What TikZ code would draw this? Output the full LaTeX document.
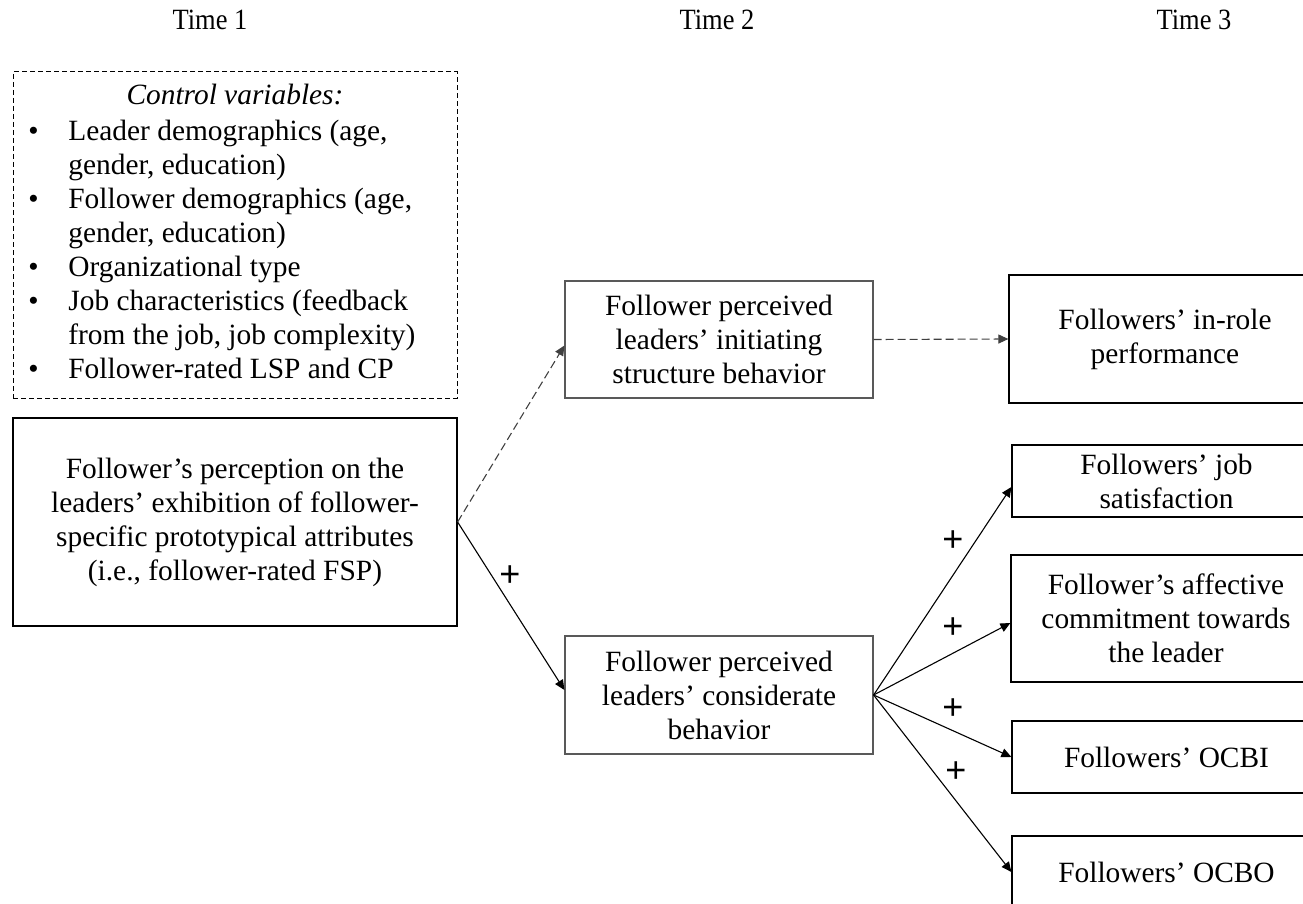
\documentclass[tikz,border=0pt]{standalone}
\usepackage{fontspec}
\usepackage{graphicx}
\setmainfont{Liberation Serif}
\newfontfamily\plusfont{Liberation Sans}
\usetikzlibrary{arrows.meta}
\begin{document}
\begin{tikzpicture}[x=0.5pt,y=-0.5pt,
  txt/.style={font=\fontsize{14.7}{17}\selectfont},
  box/.style={txt, draw=black, line width=0.6pt, align=center, inner sep=0pt},
  midbox/.style={box, draw=black!65},
  arr/.style={-{Triangle[length=5pt,width=4.5pt]}, line width=0.55pt},
  darr/.style={arr, draw=black!75, dash pattern=on 4pt off 2pt},
  plus/.style={font=\plusfont\fontsize{18}{18}\selectfont, inner sep=0pt},
  timelab/.style={txt, anchor=base, inner sep=0pt}
]
\useasboundingbox (0,0) rectangle (1303,904);
\clip (0,0) rectangle (1303,904);

% time labels
\node[timelab] (t1) at (210,30) {\scalebox{0.9}[1]{Time 1}};
\node[timelab] (t2) at (717,30) {\scalebox{0.9}[1]{Time 2}};
\node[timelab] (t3) at (1194,30) {\scalebox{0.9}[1]{Time 3}};

% control variables
\node[box, line width=0.5pt, dash pattern=on 2.5pt off 1.5pt, minimum width=222pt, minimum height=163pt] (ctrl) at (235,235) {};
\node[txt, font=\itshape\fontsize{14.7}{17}\selectfont, anchor=base, inner sep=0pt] (ctrltitle) at (235,105) {Control variables:};
\node[txt, anchor=north west, inner sep=0pt] (ctrllist) at (28,116.2) {%
\begin{tabular}{@{}l@{}l@{}}
\makebox[20pt][l]{•} & Leader demographics (age,\\
 & gender, education)\\
\makebox[20pt][l]{•} & Follower demographics (age,\\
 & gender, education)\\
\makebox[20pt][l]{•} & Organizational type\\
\makebox[20pt][l]{•} & Job characteristics (feedback\\
 & from the job, job complexity)\\
\makebox[20pt][l]{•} & Follower-rated LSP and CP
\end{tabular}};

% boxes
\node[box, minimum width=222pt, minimum height=104pt] (fsp) at (235,522)
  {Follower’s perception on the\\leaders’ exhibition of follower-\\specific prototypical attributes\\(i.e., follower-rated FSP)};
\node[midbox, minimum width=154pt, minimum height=58.5pt] (init) at (719,339.5)
  {Follower perceived\\leaders’ initiating\\structure behavior};
\node[midbox, minimum width=154pt, minimum height=59pt] (cons) at (719,695)
  {Follower perceived\\leaders’ considerate\\behavior};
\node[box, minimum width=156pt, minimum height=64pt] (inrole) at (1165,339)
  {Followers’ in-role\\performance};
\node[box, minimum width=154.5pt, minimum height=36pt] (jobsat) at (1166.5,481)
  {Followers’ job\\satisfaction};
\node[box, minimum width=155pt, minimum height=63.5pt] (affect) at (1166,618.5)
  {Follower’s affective\\commitment towards\\the leader};
\node[box, minimum width=154.5pt, minimum height=36pt] (ocbi) at (1166.5,757)
  {Followers’ OCBI};
\node[box, minimum width=154.5pt, minimum height=36pt] (ocbo) at (1166.5,872)
  {Followers’ OCBO};

% connectors
\draw[darr] (fsp.east) -- ([yshift=-3pt]init.west);
\draw[arr] (fsp.east) -- ([yshift=2.5pt]cons.west);
\draw[darr] (init.east) -- (inrole.west);
\draw[arr] (cons.east) -- ([yshift=-3pt]jobsat.west);
\draw[arr] (cons.east) -- ([yshift=-2.25pt]affect.west);
\draw[arr] (cons.east) -- (ocbi.west);
\draw[arr] (cons.east) -- (ocbo.west);

% plus labels
\node[plus] (p1) at (510,576) {+};
\node[plus] (p2) at (953,541) {+};
\node[plus] (p3) at (953,628) {+};
\node[plus] (p4) at (953,709) {+};
\node[plus] (p5) at (956,772) {+};
\end{tikzpicture}
\end{document}
